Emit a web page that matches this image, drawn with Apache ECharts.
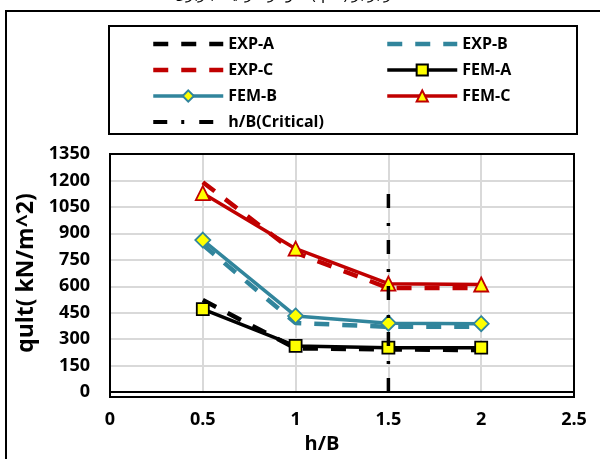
<!DOCTYPE html>
<html>
<head>
<meta charset="utf-8">
<script src="https://cdn.jsdelivr.net/npm/echarts@6/dist/echarts.min.js"></script>
<style>
html,body{margin:0;padding:0;background:#fff;}
#chart{width:600px;height:459px;}
</style>
</head>
<body>
<div id="chart"></div>
<script>
// ---- data ----
const xValues = [0.5, 1, 1.5, 2];
const expA = [522, 248, 242, 238];
const expB = [835, 392, 370, 370];
const expC = [1190, 790, 590, 590];
const femA = [470, 262, 252, 252];
const femB = [862, 432, 391, 388];
const femC = [1128, 813, 615, 610];
const criticalX = [1.5, 1.5];
const criticalY = [0, 1190];
const seriesNames = ['EXP-A', 'EXP-B', 'EXP-C', 'FEM-A', 'FEM-B', 'FEM-C', 'h/B(Critical)'];
const xAxisTicks = [0, 0.5, 1, 1.5, 2, 2.5];
const yAxisTicks = [0, 150, 300, 450, 600, 750, 900, 1050, 1200, 1350];
const titleText = 'نمودار ظرفیت باربری (qult) در برابر h/B';

function pairs(xs, ys) { return xs.map((x, i) => [x, ys[i]]); }

const FONT = '"Open Sans", "Liberation Sans", sans-serif';
const RED = '#C00000';
const TEAL = '#31859C';

const chart = echarts.init(document.getElementById('chart'), null, {renderer: 'canvas'});

function expSeries(name, color, ys) {
  return {
    name: name, type: 'line', data: pairs(xValues, ys),
    symbol: 'none', showSymbol: false, z: 2,
    lineStyle: {color: color, width: 4.5, type: [15, 13]},
    itemStyle: {color: color},
    animation: false
  };
}
function femSeries(name, color, ys, symbol, size) {
  return {
    name: name, type: 'line', data: pairs(xValues, ys),
    symbol: symbol, symbolSize: size, z: 3,
    lineStyle: {color: color, width: 3.5, type: 'solid'},
    itemStyle: {color: '#FFFF00', borderColor: color, borderWidth: 1.8},
    animation: false
  };
}
function noSym(name, w) { return {name: name, itemStyle: {opacity: 0}, lineStyle: {width: w}}; }
function withSym(name, w) { return {name: name, lineStyle: {width: w}}; }

const GL = 110, GT = 154, GW = 464, GH = 243;

const option = {
  animation: false,
  textStyle: {fontFamily: FONT},
  graphic: [
    {type: 'rect', shape: {x: 6, y: 11, width: 620, height: 480}, style: {fill: 'none', stroke: '#000', lineWidth: 2}, z: -10},
    {type: 'text', x: 300, y: -13, style: {text: titleText, font: '15px "Noto Sans", sans-serif', fill: '#000', align: 'center', verticalAlign: 'top'}},
    {type: 'rect', shape: {x: 109, y: 26, width: 468, height: 108}, style: {fill: '#fff', stroke: '#000', lineWidth: 2}, z: -5},
    {type: 'rect', shape: {x: GL, y: GT, width: GW, height: GH}, style: {fill: 'none', stroke: '#000', lineWidth: 2}, z: 1}
  ],
  legend: [
    {
      data: [noSym(seriesNames[0], 4.5), noSym(seriesNames[2], 4.5), withSym(seriesNames[4], 3.5), noSym(seriesNames[6], 4)],
      orient: 'vertical', left: 146, top: 31, itemWidth: 70, itemHeight: 14, itemGap: 10,
      textStyle: {fontFamily: FONT, fontWeight: 'bold', fontSize: 16, color: '#000'}
    },
    {
      data: [noSym(seriesNames[1], 4.5), withSym(seriesNames[3], 3.5), withSym(seriesNames[5], 3.5)],
      orient: 'vertical', left: 380, top: 31, itemWidth: 70, itemHeight: 14, itemGap: 10,
      textStyle: {fontFamily: FONT, fontWeight: 'bold', fontSize: 16, color: '#000'}
    }
  ],
  grid: {left: GL, width: GW, top: GT, height: GH, show: false},
  xAxis: {
    type: 'value', min: xAxisTicks[0], max: xAxisTicks[xAxisTicks.length - 1], interval: 0.5,
    name: 'h/B', nameLocation: 'middle', nameGap: 36,
    nameTextStyle: {fontFamily: FONT, fontWeight: 'bold', fontSize: 20, color: '#000', padding: [0, 40, 0, 0]},
    axisLine: {show: true, lineStyle: {color: '#000', width: 2}},
    axisTick: {show: false},
    axisLabel: {margin: 19, fontFamily: FONT, fontWeight: 'bold', fontSize: 18, color: '#000',
      formatter: v => String(v)},
    splitLine: {show: true, lineStyle: {color: '#D9D9D9', width: 2}}
  },
  yAxis: {
    type: 'value', min: yAxisTicks[0], max: yAxisTicks[yAxisTicks.length - 1], interval: 150,
    name: 'qult( kN/m^2)', nameLocation: 'middle', nameGap: 52, nameRotate: 90,
    nameTextStyle: {fontFamily: FONT, fontWeight: 'bold', fontSize: 23, color: '#000'},
    axisLine: {show: true, lineStyle: {color: '#000', width: 2}},
    axisTick: {show: false},
    axisLabel: {margin: 20, fontFamily: FONT, fontWeight: 'bold', fontSize: 18, color: '#000',
      formatter: v => String(v)},
    splitLine: {show: true, lineStyle: {color: '#D9D9D9', width: 2}}
  },
  series: [
    expSeries(seriesNames[0], '#000', expA),
    expSeries(seriesNames[1], TEAL, expB),
    expSeries(seriesNames[2], RED, expC),
    femSeries(seriesNames[3], '#000', femA, 'rect', 12),
    femSeries(seriesNames[4], TEAL, femB, 'diamond', 15),
    femSeries(seriesNames[5], RED, femC, 'triangle', 14),
    {
      name: seriesNames[6], type: 'line', data: pairs(criticalX, criticalY),
      symbol: 'none', showSymbol: false, z: 5,
      lineStyle: {color: '#000', width: 3.5, type: [14, 14, 3, 15]},
      itemStyle: {color: '#000'},
      animation: false
    }
  ]
};
chart.setOption(option);
</script>
</body>
</html>
